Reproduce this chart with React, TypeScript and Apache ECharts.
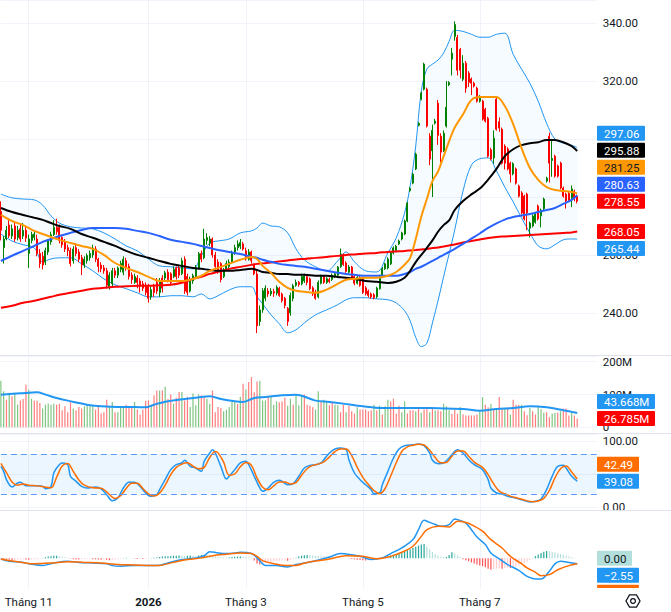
import React, { useEffect, useRef } from "react";
import * as echarts from "echarts";

// ---------- calendar ----------
const START_DATE = "2025-10-20";
const SLOT_COUNT = 215;
const HOLIDAYS = [
  "2026-01-01", "2026-02-13", "2026-02-16", "2026-02-17", "2026-02-18",
  "2026-02-19", "2026-02-20", "2026-04-27", "2026-04-30", "2026-05-01",
];
const MONTHS_SHOWN = [11, 1, 3, 5, 7];

// ---------- price candles: [open, close, low, high] ----------
const candles = [
  [275, 268.5, 265, 278.5], [262.5, 265.5, 257, 266.5], [265.5, 268.5, 265, 270], [270.3, 266.6, 265.8, 272], [266.5, 269, 265.5, 270.5],
  [270, 265.5, 264.5, 271.5], [266, 268.5, 265, 270], [269, 265.5, 264.5, 271], [266.5, 268.5, 265.5, 271], [268.5, 265.8, 264.5, 270],
  [260.5, 265.5, 255.5, 267], [265, 267, 264, 268], [266, 267.2, 265, 268.5], [265.5, 260.5, 259.5, 267], [260.5, 257, 255.5, 262],
  [259.5, 256.5, 255, 261], [257.5, 261.5, 256.5, 262.5], [261, 265, 260, 265.5], [264.5, 267, 263.5, 268], [267, 269.5, 266.5, 272],
  [269.5, 268, 267, 272.5], [269.5, 265, 264, 270.5], [266, 263.5, 262.5, 267], [264.5, 262, 261, 265.5], [262.5, 261.5, 259.5, 263.5],
  [261.5, 257, 256, 262.5], [258, 262, 257, 263], [262.5, 260.5, 259.5, 264], [261, 258.5, 257.5, 262], [259, 256.5, 253, 260],
  [256.5, 258.5, 255.5, 259.5], [258, 259.8, 257, 260.5], [259, 260.5, 258, 261.5], [260, 262.3, 259, 263.5], [262, 258.5, 257.5, 263],
  [258.5, 256, 254, 259], [256.5, 255.2, 254, 257.5], [255.5, 254.5, 253.5, 256.5], [254.5, 249.5, 248.5, 255.5], [249, 253, 248, 254],
  [250, 254.5, 249, 255.5], [254.5, 253, 252, 255.5], [253, 255.5, 252, 256], [255, 257, 254, 258], [254, 258.5, 253, 259.5],
  [258, 255.5, 254.5, 259], [256, 252.5, 251.5, 257], [253, 251.5, 250, 254], [250.5, 252.5, 250, 253.5], [252, 250.5, 248.5, 253],
  [251, 249.5, 247, 252], [250, 248.5, 247.5, 251], [249.5, 247, 246, 250.5], [249, 245, 243.5, 250], [245.5, 248, 244.5, 249],
  [249, 247, 245.5, 250], [250.5, 247.5, 246.5, 252], [247, 251, 245.5, 252], [252, 248.5, 247, 253], [252, 253.8, 251, 254.5],
  [254, 251.5, 250.5, 255], [253.5, 250.5, 249.5, 254], [252.5, 255, 252, 256], [255.5, 252.5, 251.5, 256], [255.5, 253, 252, 256.5],
  [253.5, 258, 253, 259], [258.5, 247.5, 246.5, 259.5], [252.5, 247, 246, 253.5], [247.5, 251.5, 247, 252.5], [251, 252.8, 250, 253.5],
  [252.5, 255.5, 252, 256.5], [255.5, 260.4, 255, 261], [260.5, 258.5, 257.5, 261.5], [259, 265.5, 258.5, 269], [265, 266, 263.5, 267.5],
  [264, 265.5, 263, 266.5], [265.5, 260, 259, 266], [260, 256, 255, 261], [257.5, 254.5, 253.5, 258.5], [257, 251.5, 250.5, 257.5],
  [252.5, 254.5, 252, 255.5], [255, 257, 254.5, 258], [256, 257.5, 255, 258.5], [257.5, 260.7, 257, 261.5], [261, 262.5, 260, 263.5],
  [262.5, 263.8, 261.5, 265], [263, 264.3, 262, 265.5], [263.8, 262, 261.5, 264.5], [261.4, 258.6, 258, 262.5], [258.5, 261, 258, 262],
  [261, 258, 257, 261.5], [256.5, 253.5, 253, 257], [253.4, 235.5, 233, 254.5], [237, 241, 235.5, 242.5], [241, 247.6, 240, 248.5],
  [245, 248.5, 244, 249.5], [247.5, 246.5, 245.5, 248.5], [246.5, 247.5, 245.8, 248.5], [247.3, 246.8, 245.5, 248.3], [246.8, 248.8, 246, 249.5],
  [248.5, 246, 245.5, 249], [246.5, 244.2, 243.5, 247], [245, 242.5, 241.5, 245.5], [241.5, 237, 235.5, 242], [240, 246, 239, 247],
  [245, 249.3, 244, 250], [249.5, 250.5, 249, 251.5], [250.5, 249.8, 249, 251], [250, 252.5, 249.5, 253.5], [251, 252.8, 250.3, 253.5],
  [252.5, 250.5, 249.5, 253], [251.7, 248.3, 247.8, 252.2], [248.6, 246.5, 245.8, 249.2], [247, 245, 244.5, 248], [245.5, 250.5, 245, 251.2],
  [250.2, 252.5, 249.8, 253.2], [252.5, 250.5, 250, 253], [250.5, 251.8, 250, 252.3], [251.5, 250.8, 250.2, 252.2], [251.5, 253, 251, 253.6],
  [252.5, 253.5, 252, 254], [253, 255.8, 252.5, 256.2], [256, 260.3, 255.5, 262.2], [259.5, 256.7, 256.2, 260.5], [257.2, 254.3, 253.8, 257.8],
  [254, 255.8, 253.5, 256.5], [255.8, 251.8, 251.5, 256.2], [252.5, 250.2, 249.5, 253], [250.2, 252.2, 249.8, 252.8], [252.2, 249.5, 249, 252.8],
  [251.7, 247, 246.5, 252.2], [248.6, 246.6, 246, 249.2], [247.5, 246, 245.3, 248], [246.5, 245.5, 244.8, 247], [246.2, 245.2, 244.6, 246.8],
  [245.5, 248.5, 245, 249], [248.3, 252.8, 248, 253.2], [252.8, 255.2, 252.5, 255.8], [255.2, 256.9, 254.8, 257.3], [255.5, 258.6, 255, 259.2],
  [256.9, 260.7, 256.5, 261.2], [260.7, 262.4, 260.2, 262.9], [261.5, 263, 261, 263.5], [263.8, 264.8, 263.4, 265.3], [265.5, 267.6, 265, 268],
  [267.2, 271.7, 266.8, 272.2], [271.7, 277.9, 271.3, 278.3], [282.2, 282.9, 281.8, 283.4], [284.8, 287.9, 284.4, 288.4], [289.7, 294.8, 289.3, 295.3],
  [304.8, 305.4, 304.4, 305.9], [313.8, 315.9, 313.4, 316.4], [317.2, 325.9, 316.8, 326.4], [317.2, 304.5, 304, 317.8], [301, 293.1, 291, 302],
  [296, 303, 280, 305], [305.5, 306.2, 305, 307], [312.4, 301.3, 298, 313.5], [301, 295.5, 292, 302], [296, 302, 295.5, 303],
  [304.5, 311, 304, 320], [318.8, 319.5, 318.3, 320], [327.6, 329.7, 322, 331.5], [335.5, 339.6, 334, 340.7], [335.1, 323.8, 322, 336],
  [331, 323.8, 321, 331.5], [320.7, 326.2, 320, 329], [326.2, 317.6, 316, 327], [322.8, 319.6, 318, 323.5], [320.8, 319.3, 315.2, 321.3],
  [319.3, 318.3, 317.8, 319.8], [317.6, 313.1, 312.6, 318.1], [313.1, 314.5, 312.6, 315.2], [313.1, 306.9, 306.4, 313.6], [310.3, 306.2, 305.7, 310.8],
  [307.2, 294.1, 293.6, 307.7], [296.3, 293.1, 292.6, 297], [293.5, 300.3, 291.5, 303], [313.8, 303.4, 302.9, 314.3], [306, 303.8, 302.5, 307.5],
  [303.4, 291.7, 291.2, 304], [297.6, 291.7, 289.5, 298.2], [296.6, 289.7, 289.2, 297.2], [291.7, 288, 285, 292.2], [288, 291.5, 287.5, 292],
  [289.7, 284.8, 284.3, 290.2], [283.8, 280.3, 279.8, 284.3], [281.4, 274.5, 274, 282], [280.3, 272.4, 271.9, 280.8], [281, 274.5, 268.5, 281.5],
  [269.2, 271, 266, 271.5], [270, 273.4, 269.5, 274], [271.3, 274.1, 270.8, 274.6], [276.9, 272.4, 271.9, 277.4], [273.5, 275.5, 269.5, 276],
  [275.9, 279.3, 275.4, 279.8], [285.5, 286.5, 285, 287], [301, 291.7, 285, 302.2], [292.6, 293.3, 287, 299.5], [294.1, 287.2, 286.7, 294.6],
  [290.7, 287.2, 286.7, 291.2], [291.7, 283.1, 282.6, 292.2], [283.1, 280.3, 279.8, 283.6], [281, 278.6, 276, 281.5], [281.2, 278.8, 278.3, 282],
  [279.7, 282.8, 276.5, 284], [282, 279.5, 278.5, 282.5], [280.3, 278.55, 277.8, 280.8],
];

// ---------- volume (millions) ----------
const volumes = [
  142, 110, 84, 105, 95, 105, 69, 82, 86, 130,
  115, 87, 82, 81, 74, 57, 69, 72, 69, 72,
  69, 72, 52, 64, 46, 76, 57, 52, 62, 57,
  64, 69, 69, 64, 54, 64, 42, 46, 84, 64,
  77, 46, 46, 61, 61, 69, 59, 61, 77, 54,
  39, 54, 81, 82, 69, 97, 112, 112, 112, 124,
  86, 100, 72, 90, 108, 108, 82, 93, 62, 103,
  67, 100, 97, 93, 87, 72, 112, 46, 62, 59,
  49, 54, 62, 77, 79, 71, 93, 133, 115, 138,
  153, 107, 140, 142, 82, 82, 93, 93, 69, 79,
  76, 79, 90, 66, 87, 69, 98, 67, 95, 100,
  69, 66, 61, 54, 110, 77, 84, 77, 67, 77,
  69, 67, 46, 69, 46, 66, 49, 42, 61, 54,
  54, 54, 49, 52, 69, 51, 66, 39, 64, 84,
  79, 87, 42, 66, 46, 79, 42, 52, 52, 49,
  61, 44, 54, 57, 46, 57, 51, 52, 49, 72,
  64, 52, 41, 54, 41, 62, 39, 36, 36, 36,
  36, 39, 49, 92, 69, 61, 71, 54, 54, 92,
  57, 57, 61, 39, 84, 69, 69, 69, 49, 37,
  59, 49, 39, 64, 55, 44, 46, 31, 42, 44,
  44, 49, 57, 57, 36, 49, 36, 26.785,
];
const volumeUp = [
  1, 1, 0, 1, 0, 1, 1, 0, 0, 0, 1, 1, 0, 0, 0, 1, 1, 1, 1, 1,
  0, 0, 0, 0, 0, 0, 1, 0, 0, 0, 1, 1, 1, 1, 0, 0, 0, 0, 0, 1,
  1, 0, 1, 1, 1, 0, 0, 0, 1, 0, 0, 0, 0, 0, 1, 0, 0, 1, 0, 1,
  0, 0, 1, 0, 0, 1, 0, 0, 1, 1, 1, 1, 0, 0, 1, 1, 0, 0, 0, 0,
  1, 1, 1, 1, 1, 0, 1, 0, 1, 0, 0, 0, 0, 1, 1, 1, 0, 1, 1, 1,
  0, 0, 0, 1, 1, 0, 1, 1, 1, 0, 0, 0, 0, 1, 1, 0, 1, 1, 0, 0,
  1, 1, 0, 0, 1, 0, 0, 0, 1, 0, 0, 0, 0, 0, 1, 0, 1, 0, 1, 1,
  0, 0, 0, 0, 1, 1, 0, 0, 0, 1, 0, 1, 0, 0, 1, 0, 1, 0, 0, 1,
  1, 1, 0, 0, 0, 1, 0, 0, 0, 0, 0, 0, 1, 1, 0, 0, 1, 0, 1, 0,
  0, 1, 0, 1, 0, 0, 0, 1, 0, 0, 1, 0, 0, 1, 1, 1, 0, 0, 1, 1,
  0, 1, 0, 0, 0, 1, 0, 0,
];
const volumeMA = [
  [0, 99.6], [7, 103.7], [13, 106.8], [16, 99.6], [20, 89.5], [24, 81.3], [28, 74.2], [32, 67.1], [36, 64], [42, 62],
  [48, 62], [52, 61], [55, 69], [60, 79.3], [66, 86.4], [72, 92.5], [75, 94.6], [79, 86.4], [84, 79.3], [87, 77.3],
  [91, 89.5], [95, 92.5], [101, 97.6], [106, 99.6], [113, 81.3], [118, 77.3], [123, 72.2], [130, 64], [137, 59], [142, 59],
  [148, 59], [154, 59], [160, 57], [166, 56], [172, 50.8], [178, 56], [184, 59], [190, 64], [196, 61], [202, 52],
  [205, 47], [207, 43.668],
];

// ---------- overlay indicators sampled at these bar indices ----------
const bandIdx = [
  0, 4, 8, 12, 15, 18, 21, 25, 29, 33, 37, 41, 45, 49, 53, 57, 61, 65, 69, 72,
  75, 78, 82, 86, 90, 92, 94, 97, 100, 103, 106, 109, 113, 117, 121, 124, 127, 131, 135, 139,
  142, 145, 147, 149, 151, 153, 155, 157, 159, 161, 163, 166, 169, 172, 175, 178, 181, 184, 187, 190,
  193, 196, 199, 202, 205, 207,
];
const bbUpper = [
  281.0, 279.7, 279.3, 279.0, 277.2, 273.5, 271.0, 269.7, 269.3, 269.0,
  267.6, 265.5, 263.1, 261.4, 258.6, 256.2, 255.9, 255.5, 255.2, 259.7,
  264.1, 264.8, 265.5, 267.6, 268.3, 269.3, 271.0, 270.0, 269.7, 267.6,
  262.1, 258.3, 255.9, 254.5, 257.9, 261.0, 257.6, 254.5, 254.1, 260.7,
  265.9, 274.5, 283.8, 297.6, 316.6, 324.2, 325.9, 327.3, 329.7, 333.8,
  337.6, 337.2, 336.2, 335.2, 335.2, 336.2, 336.6, 329.3, 324.2, 319.3,
  313.1, 305.5, 300.0, 298.6, 297.9, 297.06,
];
const bbLower = [
  267.2, 264.8, 263.5, 262.4, 257.6, 258.6, 259.0, 259.0, 256.9, 254.5,
  251.7, 249.7, 248.3, 246.9, 245.5, 245.5, 245.9, 245.9, 245.5, 246.5,
  244.8, 245.9, 247.9, 249.0, 249.0, 245.5, 243.1, 239.3, 236.2, 233.1,
  234.1, 236.5, 239.3, 241.0, 242.8, 244.5, 245.2, 245.2, 244.8, 244.5,
  243.4, 240.7, 237.2, 231.5, 228.3, 229.5, 236.5, 244.1, 252.4, 260.4,
  268.6, 282.1, 291.0, 293.2, 293.5, 289.0, 283.4, 278.3, 272.8, 267.6,
  263.1, 262.1, 263.5, 265.2, 265.5, 265.44,
];
const ma20 = [
  273.8, 271.7, 270.3, 268.3, 267.2, 266.2, 265.2, 264.1, 263.1, 262.1,
  260.0, 257.2, 255.5, 254.1, 252.4, 251.0, 251.0, 251.0, 251.7, 252.8,
  254.5, 255.5, 256.9, 258.3, 259.3, 258.6, 256.2, 253.8, 250.7, 248.6,
  247.6, 247.3, 246.9, 248.0, 250.0, 251.4, 251.7, 252.1, 252.1, 252.8,
  254.1, 256.6, 259.0, 265.5, 273.2, 279.3, 285.5, 288.8, 294.0, 299.3,
  304.0, 308.6, 313.5, 314.5, 314.5, 314.5, 311.4, 305.2, 296.9, 290.0,
  285.9, 283.4, 282.4, 282.1, 281.7, 281.25,
];
const ma50 = [
  276.2, 274.8, 273.8, 272.8, 272.1, 271.0, 270.0, 269.0, 267.2, 265.9,
  264.5, 263.1, 261.4, 260.0, 259.0, 257.9, 256.9, 256.2, 255.5, 255.2,
  254.8, 254.5, 254.5, 254.8, 255.2, 254.8, 254.1, 253.8, 253.4, 253.4,
  253.1, 253.1, 252.8, 252.8, 252.4, 252.1, 251.7, 251.0, 250.7, 250.3,
  250.7, 252.1, 254.5, 257.5, 260.0, 262.4, 265.0, 268.0, 270.3, 271.9,
  275.5, 278.6, 280.9, 282.9, 286.0, 289.7, 294.1, 296.5, 297.9, 298.6,
  298.9, 299.7, 299.7, 298.9, 297.6, 295.88,
];
const ma100 = [
  257.9, 259.7, 261.4, 263.1, 264.5, 265.5, 266.5, 267.6, 268.6, 269.3,
  269.3, 269.3, 269.0, 268.3, 267.6, 266.5, 265.2, 264.5, 263.8, 263.1,
  262.4, 261.7, 261.0, 260.3, 259.3, 259.0, 258.3, 257.6, 256.9, 256.5,
  256.2, 255.9, 255.2, 254.5, 253.8, 253.4, 253.1, 252.8, 252.8, 252.8,
  252.8, 253.4, 254.1, 255.2, 255.9, 256.9, 257.9, 259.0, 260.0, 261.0,
  262.1, 263.8, 265.6, 267.4, 269.3, 270.9, 272.2, 273.1, 273.6, 274.1,
  274.8, 275.5, 276.2, 277.6, 279.0, 280.63,
];
const ma200 = [
  241.72, 242.41, 243.45, 244.14, 244.83, 245.52, 246.21, 246.9, 247.59, 248.28,
  248.62, 248.97, 249.14, 249.31, 249.31, 249.48, 249.66, 250.35, 251.73, 252.41,
  253.45, 254.14, 255.17, 255.86, 256.55, 256.9, 257.07, 257.41, 257.76, 258.1,
  258.45, 258.62, 258.97, 259.31, 259.66, 260.0, 260.17, 260.52, 260.69, 261.04,
  261.21, 261.38, 261.55, 261.72, 261.9, 262.07, 262.41, 262.59, 262.93, 263.28,
  263.62, 264.31, 264.83, 265.35, 265.86, 266.21, 266.38, 266.55, 266.72, 266.9,
  267.07, 267.24, 267.41, 267.59, 267.76, 268.05,
];

// ---------- Stoch RSI: [bar index, value] ----------
const stochK = [
  [0, 61.6], [1, 54], [2, 41.4], [4, 30.3], [6, 36.4], [7, 37.4], [9, 32.3], [11, 32.3], [13, 32.3], [15, 31.3],
  [16, 27.8], [18, 31.3], [19, 51.5], [21, 64.1], [22, 66.7], [24, 64.1], [25, 46.5], [27, 38.9], [29, 31.3], [31, 28.8],
  [34, 30.3], [36, 27.3], [38, 18.7], [40, 9.6], [42, 13.6], [44, 28.8], [46, 37.4], [48, 37.4], [50, 31.3], [52, 21.2],
  [54, 16.2], [56, 18.7], [57, 26.3], [59, 41.4], [61, 56.6], [63, 64.1], [65, 66.7], [66, 70.7], [68, 61.6], [70, 59.1],
  [72, 54], [73, 69.2], [75, 81.8], [76, 86.9], [77, 81.8], [79, 61.6], [81, 42.4], [82, 46.5], [84, 56.6], [86, 66.7],
  [88, 69.2], [89, 64.1], [91, 46.5], [93, 28.8], [94, 23.7], [96, 28.8], [98, 37.4], [100, 40.4], [101, 38.9], [103, 33.8],
  [105, 35.4], [107, 46.5], [109, 59.1], [111, 63.1], [113, 64.1], [115, 66.7], [116, 71.7], [118, 81.8], [120, 87.9], [122, 89.4],
  [124, 86.9], [125, 71.7], [127, 51.5], [129, 41.4], [131, 33.8], [133, 26.3], [134, 20.2], [136, 21.2], [137, 33.8], [139, 54],
  [141, 74.2], [143, 87.9], [145, 92.9], [148, 94.4], [150, 95.5], [152, 92.9], [154, 81.8], [155, 70.7], [157, 65.7], [159, 66.7],
  [161, 74.2], [163, 84.3], [164, 86.9], [166, 81.8], [168, 71.7], [170, 64.1], [173, 56.6], [175, 41.4], [176, 28.8], [178, 21.2],
  [180, 19.7], [182, 16.2], [185, 13.6], [187, 11.1], [190, 7.6], [192, 8.6], [194, 12.1], [196, 26.3], [198, 46.5], [200, 61.6],
  [202, 63.1], [203, 59.1], [205, 46.5], [207, 39.08],
];
const stochD = [
  [0, 66], [2, 52], [4, 38], [6, 33], [8, 35], [10, 33], [13, 32], [16, 30], [18, 29], [20, 45],
  [22, 62], [24, 66], [26, 54], [28, 41], [30, 33], [33, 29], [36, 28.5], [38, 23], [41, 13], [43, 17],
  [45, 28], [47, 36], [49, 36], [51, 28], [53, 20], [55, 16.5], [57, 21], [59, 33], [61, 49], [63, 60],
  [65, 65], [67, 67], [69, 62], [71, 58], [73, 60], [75, 75], [77, 84], [78, 82], [80, 68], [82, 48],
  [84, 50], [86, 61], [88, 67.5], [90, 63], [92, 44], [94, 30], [96, 26], [98, 32], [100, 38], [102, 38],
  [104, 35], [106, 37], [108, 48], [110, 58], [112, 63], [114, 65], [116, 68.5], [118, 76], [120, 84], [122, 88],
  [124, 88], [126, 78], [128, 60], [130, 45], [132, 34], [134, 25], [136, 20], [138, 28], [140, 47], [142, 67],
  [144, 84], [146, 91], [148, 93.5], [150, 95], [152, 94], [154, 86], [156, 75], [158, 67], [160, 67.5], [162, 77],
  [164, 85], [166, 85], [168, 77], [170, 68], [173, 60], [175, 49], [177, 35], [179, 24], [181, 20], [183, 16.5],
  [186, 13], [188, 10.5], [191, 8], [193, 9], [195, 13], [197, 25], [199, 44], [201, 58], [203, 62], [205, 53],
  [207, 42.49],
];

// ---------- MACD: [bar index, value] ----------
const macdLine = [
  [0, -0.3], [3, -1.4], [7, -1.7], [10, -2.5], [15, -3.3], [19, -2.2], [24, -1.4], [28, -1.9], [33, -2.2], [38, -2.5],
  [40, -3.4], [43, -3.7], [48, -3.3], [52, -3.4], [56, -3.4], [60, -2.2], [63, -1.1], [67, -0.3], [70, 0.2], [73, 1.2],
  [75, 3.1], [78, 2.5], [81, 2.2], [84, 2.5], [86, 2.8], [90, 2.2], [92, 0.2], [94, -2.6], [95, -3.3], [99, -3.4],
  [103, -4.0], [106, -2.9], [109, -2.2], [113, -1.1], [118, 0.6], [122, 2.2], [126, 1.6], [130, 0.6], [133, -0.6], [137, 0.2],
  [140, 2.2], [144, 4.8], [148, 8.7], [150, 13.3], [152, 17.7], [154, 16.7], [156, 15.7], [158, 14.9], [161, 15.7], [163, 18.3],
  [164, 18.0], [167, 16.4], [169, 13.3], [171, 9.9], [174, 6.4], [176, 2.5], [179, -0.3], [182, -2.9], [186, -5.6], [189, -8.4],
  [192, -9.6], [194, -9.6], [197, -6.0], [199, -2.6], [201, -1.4], [204, -1.9], [207, -2.55],
];
const signalLine = [
  [0, -0.3], [6, -1.6], [12, -2.5], [18, -2.2], [24, -1.6], [30, -1.9], [36, -2.2], [42, -2.9], [48, -3.1], [54, -3.4],
  [57, -3.3], [62, -1.9], [67, -0.6], [72, 0.2], [76, 1.2], [81, 1.9], [86, 2.5], [90, 2.2], [92, 0.9], [94, -1.1],
  [98, -2.5], [103, -3.4], [106, -3.3], [110, -1.9], [118, -0.3], [124, 1.2], [130, 0.9], [135, -0.2], [140, 0.9], [144, 2.8],
  [148, 5.6], [151, 10.2], [153, 13.3], [157, 14.9], [161, 14.6], [164, 17.2], [167, 16.7], [169, 15.7], [173, 12.6], [176, 8.7],
  [180, 4.8], [183, 0.9], [187, -2.5], [189, -4.5], [192, -6.5], [194, -8.1], [197, -7.6], [200, -5.3], [204, -3.4], [207, -2.56],
];
const macdHist = [
  -0.3, -0.4, -0.5, -0.6, -0.8, -0.8, -0.6, -0.5, -0.5, -0.6,
  -0.7, -0.6, -0.5, -0.4, -0.2, 0.2, 0.5, 0.8, 1.0, 1.2,
  1.2, 1.0, 0.8, 0.5, 0.3, -0.2, -0.4, -0.5, -0.6, -0.5,
  -0.4, -0.3, -0.3, -0.4, -0.5, -0.6, -0.7, -0.6, -0.7, -0.9,
  -0.8, -0.6, -0.4, -0.2, 0.2, 0.3, 0.2, 0.1, -0.2, -0.3,
  -0.2, -0.3, -0.2, -0.1, 0.2, 0.3, 0.4, 0.6, 0.8, 0.9,
  1.0, 1.1, 1.2, 1.2, 1.3, 1.2, 1.1, 1.2, 1.3, 1.2,
  1.1, 1.3, 1.5, 1.7, 1.6, 1.4, 1.1, 0.9, 0.7, 0.5,
  0.4, 0.3, 0.4, 0.6, 0.7, 0.8, 0.8, 0.7, 0.6, 0.4,
  0.2, -1.0, -2.4, -2.9, -2.6, -2.2, -1.9, -1.6, -1.4, -1.2,
  -1.1, -1.0, -1.0, -1.1, -0.8, -0.4, 0.3, 0.8, 1.2, 1.4,
  1.5, 1.4, 1.3, 1.2, 1.1, 1.0, 0.9, 0.8, 0.8, 0.7,
  0.6, 0.5, 0.4, 0.2, 0.1, -0.1, -0.3, -0.5, -0.7, -0.8,
  -0.9, -1.0, -0.9, -0.8, -0.5, -0.2, 0.2, 0.5, 0.8, 1.0,
  1.3, 1.7, 2.0, 2.4, 2.8, 3.2, 3.7, 4.2, 4.8, 5.4,
  5.9, 6.4, 6.7, 5.5, 4.2, 3.0, 2.0, 1.3, 0.8, 0.5,
  0.6, 1.5, 2.8, 2.2, 1.4, 0.6, -0.4, -0.9, -1.4, -1.9,
  -2.4, -2.9, -3.3, -3.7, -4.2, -4.8, -5.3, -5.0, -4.8, -4.6,
  -4.8, -4.6, -4.4, -4.5, -4.2, -3.8, -3.4, -2.8, -2.2, -1.6,
  -0.8, 0.2, 1.0, 1.8, 2.5, 3.1, 3.4, 3.3, 3.0, 2.7,
  2.4, 2.0, 1.6, 1.2, 0.8, 0.5, 0.2, 0.0,
];

// ---------- styling / layout ----------
const FONT = 'Roboto, "Liberation Sans", Arial, sans-serif';
const FS = 11.5;
const TEXT = "#131722";
const GRID_LINE = "#f0f3fa";
const SEP = "#e0e3eb";
const PLOT_LEFT = 0.89;
const PLOT_RIGHT = 74.3;
const PANES = [
  { top: 0, height: 355 },
  { top: 356, height: 77 },
  { top: 434, height: 76 },
  { top: 511, height: 77 },
];
const Y_RANGES = [
  [225.42, 348.05],
  [-17.4, 217.4],
  [-4.55, 110.6],
  [-13.81, 22.0],
];
const C_UP = "#008000";
const C_DOWN = "#ff0000";
const BB_BLUE = "#2196f3";
const SMOOTH = 0.35;

function buildTradingDays(start: string, n: number, holidays: string[]): string[] {
  const out: string[] = [];
  const d = new Date(start + "T00:00:00Z");
  while (out.length < n) {
    const wd = d.getUTCDay();
    const s = d.toISOString().slice(0, 10);
    if (wd !== 0 && wd !== 6 && holidays.indexOf(s) < 0) out.push(s);
    d.setUTCDate(d.getUTCDate() + 1);
  }
  return out;
}

const fmtMinus = (v: number, d: number) => {
  const s = Math.abs(v).toFixed(d);
  return v < 0 && Number(s) !== 0 ? "\u2212" + s : s;
};

export default function App() {
  const ref = useRef<HTMLDivElement>(null);

  useEffect(() => {
    const el = ref.current;
    if (!el) return;
    const chart = echarts.init(el, null, { renderer: "svg" });
    const cats = buildTradingDays(START_DATE, SLOT_COUNT, HOLIDAYS);
    const monthOf = (i: number) => Number(cats[i].slice(5, 7));
    const isMonthMark = (i: number) =>
      i > 0 && i < cats.length && monthOf(i) !== monthOf(i - 1) && MONTHS_SHOWN.indexOf(monthOf(i)) >= 0;

    const grids = PANES.map((p) => ({
      left: PLOT_LEFT,
      right: PLOT_RIGHT,
      top: p.top,
      height: p.height,
      containLabel: false,
      outerBoundsMode: "none",
    }));

    const xAxes = PANES.map((_, k) => ({
      type: "category",
      gridIndex: k,
      data: cats,
      boundaryGap: false,
      axisLine: { show: false },
      axisTick: { show: false },
      axisPointer: { show: false },
      axisLabel:
        k === 3
          ? {
              show: true,
              interval: (i: number) => isMonthMark(i),
              color: TEXT,
              fontSize: FS,
              fontFamily: FONT,
              margin: 8,
              hideOverlap: false,
              formatter: (val: string) => {
                const m = Number(val.slice(5, 7));
                return m === 1 ? "{b|" + val.slice(0, 4) + "}" : "Tháng " + m;
              },
              rich: { b: { fontWeight: "bold", fontSize: FS, fontFamily: FONT, color: TEXT } },
            }
          : { show: false },
      splitLine: {
        show: true,
        interval: (i: number) => isMonthMark(i),
        lineStyle: { color: GRID_LINE, width: 1 },
      },
    }));

    const baseLabel = {
      color: TEXT,
      fontSize: FS,
      fontFamily: FONT,
      margin: 6,
      showMinLabel: false,
      showMaxLabel: false,
    };
    const fmtPrice = (v: number) => v.toFixed(2);
    const fmtVol = (v: number) => (v === 0 ? "0" : v + "M");
    const fmtStoch = (v: number) => (v === 50 ? "" : v.toFixed(2));
    const yAxes = [
      {
        type: "value", gridIndex: 0, position: "right", min: Y_RANGES[0][0], max: Y_RANGES[0][1], splitNumber: 6,
        axisLine: { show: false }, axisTick: { show: false },
        axisLabel: { ...baseLabel, formatter: fmtPrice },
        splitLine: { show: true, lineStyle: { color: GRID_LINE } },
      },
      {
        type: "value", gridIndex: 1, position: "right", min: Y_RANGES[1][0], max: Y_RANGES[1][1], splitNumber: 2,
        axisLine: { show: false }, axisTick: { show: false },
        axisLabel: { ...baseLabel, formatter: fmtVol },
        splitLine: { show: true, lineStyle: { color: GRID_LINE } },
      },
      {
        type: "value", gridIndex: 2, position: "right", min: Y_RANGES[2][0], max: Y_RANGES[2][1], splitNumber: 2,
        axisLine: { show: false }, axisTick: { show: false },
        axisLabel: { ...baseLabel, formatter: fmtStoch },
        splitLine: { show: true, lineStyle: { color: GRID_LINE } },
      },
      {
        type: "value", gridIndex: 3, position: "right", min: Y_RANGES[3][0], max: Y_RANGES[3][1],
        axisLine: { show: false }, axisTick: { show: false },
        axisLabel: { show: false },
        splitLine: { show: false },
      },
    ];

    const pairs = (vals: number[]) => bandIdx.map((x, k) => [x, vals[k]]);
    const maLine = (name: string, vals: number[], color: string) => ({
      type: "line", name, xAxisIndex: 0, yAxisIndex: 0, data: pairs(vals),
      smooth: SMOOTH, symbol: "none", silent: true, z: 4,
      lineStyle: { color, width: 2 },
    });

    const histData = macdHist.map((v, i) => {
      const prev = i > 0 ? macdHist[i - 1] : v;
      let color;
      if (v >= 0) color = v >= prev ? "#26a69a" : "#b2dfdb";
      else color = v < prev ? "#ff5252" : "#ffcdd2";
      return { value: [i, v], itemStyle: { color } };
    });
    const volData = volumes.map((v, i) => ({
      value: [i, v],
      itemStyle: { color: volumeUp[i] ? "rgba(76,175,80,0.72)" : "rgba(255,82,82,0.75)" },
    }));

    const series: any[] = [
      {
        type: "line", name: "bbLower", xAxisIndex: 0, yAxisIndex: 0, stack: "bb",
        data: pairs(bbLower), smooth: SMOOTH, symbol: "none", silent: true, z: 1,
        lineStyle: { color: BB_BLUE, width: 1 },
      },
      {
        type: "line", name: "bbUpper", xAxisIndex: 0, yAxisIndex: 0, stack: "bb",
        data: bandIdx.map((x, k) => [x, bbUpper[k] - bbLower[k]]), smooth: SMOOTH, symbol: "none", silent: true, z: 1,
        lineStyle: { color: BB_BLUE, width: 1 },
        areaStyle: { color: "rgba(33,150,243,0.055)" },
      },
      {
        type: "candlestick", name: "price", xAxisIndex: 0, yAxisIndex: 0, data: candles,
        barWidth: 1.5, silent: true, z: 2,
        itemStyle: { color: C_UP, color0: C_DOWN, borderColor: C_UP, borderColor0: C_DOWN, borderWidth: 1 },
      },
      maLine("ma200", ma200, "#ff0000"),
      maLine("ma100", ma100, "#2962ff"),
      maLine("ma50", ma50, "#000000"),
      maLine("ma20", ma20, "#ff9800"),
      {
        type: "bar", name: "volume", xAxisIndex: 1, yAxisIndex: 1, data: volData, barWidth: 1.2, silent: true,
      },
      {
        type: "line", name: "volumeMA", xAxisIndex: 1, yAxisIndex: 1, data: volumeMA, smooth: SMOOTH,
        symbol: "none", silent: true, lineStyle: { color: "#2196f3", width: 2 }, z: 3,
      },
      {
        type: "line", name: "stochK", xAxisIndex: 2, yAxisIndex: 2, data: stochK, smooth: SMOOTH,
        symbol: "none", silent: true, lineStyle: { color: "#2196f3", width: 1.5 }, z: 3,
        markArea: {
          silent: true,
          itemStyle: { color: "rgba(33,150,243,0.09)" },
          data: [[{ yAxis: 80 }, { yAxis: 20 }]],
        },
        markLine: {
          silent: true, symbol: "none", label: { show: false },
          lineStyle: { color: "#5b9cf6", type: [6, 4], width: 1 },
          data: [{ yAxis: 80 }, { yAxis: 20 }],
        },
      },
      {
        type: "line", name: "stochD", xAxisIndex: 2, yAxisIndex: 2, data: stochD, smooth: SMOOTH,
        symbol: "none", silent: true, lineStyle: { color: "#ff6d00", width: 1.5 }, z: 4,
      },
      {
        type: "bar", name: "hist", xAxisIndex: 3, yAxisIndex: 3, data: histData, barWidth: 1.2, silent: true,
      },
      {
        type: "line", name: "macd", xAxisIndex: 3, yAxisIndex: 3, data: macdLine, smooth: SMOOTH,
        symbol: "none", silent: true, lineStyle: { color: "#2196f3", width: 1.5 }, z: 3,
      },
      {
        type: "line", name: "signal", xAxisIndex: 3, yAxisIndex: 3, data: signalLine, smooth: SMOOTH,
        symbol: "none", silent: true, lineStyle: { color: "#ff6d00", width: 1.5 }, z: 4,
      },
    ];

    chart.setOption({
      animation: false,
      backgroundColor: "#ffffff",
      textStyle: { fontFamily: FONT },
      grid: grids,
      xAxis: xAxes,
      yAxis: yAxes,
      series,
    });

    // ---------- value badges on the price scale ----------
    const canvas = document.createElement("canvas");
    const ctx = canvas.getContext("2d");
    const measure = (t: string) => {
      if (!ctx) return t.length * 7;
      ctx.font = `${FS}px ${FONT}`;
      return ctx.measureText(t).width;
    };
    const BADGE_H = 15;
    const GAP = 17;
    const BADGE_X = 597;
    const graphics: any[] = [];
    const badgeRects: { gridIndex: number; top: number; bottom: number }[] = [];

    const placeBadges = (
      gridIndex: number,
      items: { value: number; text: string; bg: string; fg: string }[],
      anchor: number
    ) => {
      const pane = PANES[gridIndex];
      const nat = items.map((it) => (chart.convertToPixel({ gridIndex }, [0, it.value]) as number[])[1]);
      const ys = nat.slice();
      const ay = nat[anchor];
      const idx = items.map((_, i) => i).filter((i) => i !== anchor);
      const above = idx.filter((i) => nat[i] < ay).sort((a, b) => nat[b] - nat[a]);
      let prev = ay;
      for (const i of above) {
        ys[i] = Math.min(nat[i], prev - GAP);
        prev = ys[i];
      }
      const below = idx.filter((i) => nat[i] >= ay).sort((a, b) => nat[a] - nat[b]);
      prev = ay;
      for (const i of below) {
        ys[i] = Math.max(nat[i], prev + GAP);
        prev = ys[i];
      }
      items.forEach((it, i) => {
        const y = ys[i];
        const top = Math.max(y - BADGE_H / 2, pane.top);
        const bottom = Math.min(y + BADGE_H / 2, pane.top + pane.height);
        if (bottom <= top) return;
        badgeRects.push({ gridIndex, top, bottom });
        const w = Math.round(measure(it.text) + 13);
        graphics.push({
          type: "rect", z: 100, silent: true,
          shape: { x: BADGE_X, y: top, width: w, height: bottom - top, r: 1 },
          style: { fill: it.bg },
        });
        if (bottom - top >= BADGE_H - 0.01) {
          graphics.push({
            type: "text", z: 101, silent: true, x: BADGE_X + 7, y: y + 0.5,
            style: {
              text: it.text, fill: it.fg, fontSize: FS, fontFamily: FONT,
              align: "left", verticalAlign: "middle", textAlign: "left", textVerticalAlign: "middle",
            },
          });
        }
      });
    };

    const last = (a: number[]) => a[a.length - 1];
    const lastPair = (a: number[][]) => a[a.length - 1][1];
    const closeLast = candles[candles.length - 1][1];

    placeBadges(
      0,
      [
        { value: last(bbUpper), text: last(bbUpper).toFixed(2), bg: "#2196f3", fg: "#ffffff" },
        { value: last(ma50), text: last(ma50).toFixed(2), bg: "#000000", fg: "#ffffff" },
        { value: last(ma20), text: last(ma20).toFixed(2), bg: "#ff9800", fg: "#131722" },
        { value: last(ma100), text: last(ma100).toFixed(2), bg: "#2962ff", fg: "#ffffff" },
        { value: closeLast, text: closeLast.toFixed(2), bg: "#ff0000", fg: "#ffffff" },
        { value: last(ma200), text: last(ma200).toFixed(2), bg: "#ff0000", fg: "#ffffff" },
        { value: last(bbLower), text: last(bbLower).toFixed(2), bg: "#2196f3", fg: "#ffffff" },
      ],
      4
    );
    const volLast = last(volumes);
    const volMALast = lastPair(volumeMA);
    placeBadges(
      1,
      [
        { value: volMALast, text: volMALast.toFixed(3) + "M", bg: "#2196f3", fg: "#ffffff" },
        { value: volLast, text: volLast.toFixed(3) + "M", bg: "#ff0000", fg: "#ffffff" },
      ],
      1
    );
    placeBadges(
      2,
      [
        { value: lastPair(stochD), text: lastPair(stochD).toFixed(2), bg: "#ff6d00", fg: "#ffffff" },
        { value: lastPair(stochK), text: lastPair(stochK).toFixed(2), bg: "#2196f3", fg: "#ffffff" },
      ],
      1
    );
    placeBadges(
      3,
      [
        { value: last(macdHist), text: fmtMinus(last(macdHist), 2), bg: "#b2dfdb", fg: "#131722" },
        { value: lastPair(macdLine), text: fmtMinus(lastPair(macdLine), 2), bg: "#2196f3", fg: "#ffffff" },
        { value: lastPair(signalLine), text: fmtMinus(lastPair(signalLine), 2), bg: "#ff6d00", fg: "#ffffff" },
      ],
      0
    );

    // scale labels that a badge covers almost entirely are not drawn (as on the reference)
    const coveredValues = (gridIndex: number, values: number[]) =>
      values.filter((v) => {
        const y = (chart.convertToPixel({ gridIndex }, [0, v]) as number[])[1];
        const t = y - 6;
        const b = y + 6;
        let cover = 0;
        badgeRects
          .filter((r) => r.gridIndex === gridIndex)
          .forEach((r) => {
            cover += Math.max(0, Math.min(b, r.bottom) - Math.max(t, r.top));
          });
        return cover / 12 > 0.7;
      });
    const hidePrice = coveredValues(0, [240, 260, 280, 300, 320, 340]);
    const hideVol = coveredValues(1, [0, 100, 200]);
    const hideStoch = coveredValues(2, [0, 100]);
    const isHidden = (list: number[], v: number) => list.some((h) => Math.abs(h - v) < 1e-6);

    // pane separators
    [355.5, 433.5, 510.5].forEach((y) => {
      graphics.push({
        type: "line", z: 90, silent: true,
        shape: { x1: 0, y1: y, x2: 671, y2: y },
        style: { stroke: SEP, lineWidth: 1 },
      });
    });

    // settings gear icon (bottom-right)
    const gx = 633, gy = 601, gr = 7;
    const hex: number[][] = [];
    for (let k = 0; k < 6; k++) {
      const a = (Math.PI / 3) * k;
      hex.push([gx + gr * Math.cos(a), gy + gr * Math.sin(a)]);
    }
    graphics.push({
      type: "polygon", z: 100, silent: true, shape: { points: hex },
      style: { fill: "none", stroke: TEXT, lineWidth: 1.3 },
    });
    graphics.push({
      type: "circle", z: 100, silent: true, shape: { cx: gx, cy: gy, r: 2.4 },
      style: { fill: "none", stroke: TEXT, lineWidth: 1.3 },
    });

    chart.setOption({
      yAxis: [
        { axisLabel: { formatter: (v: number) => (isHidden(hidePrice, v) ? "" : fmtPrice(v)) } },
        { axisLabel: { formatter: (v: number) => (isHidden(hideVol, v) ? "" : fmtVol(v)) } },
        { axisLabel: { formatter: (v: number) => (isHidden(hideStoch, v) ? "" : fmtStoch(v)) } },
        {},
      ],
      graphic: graphics,
    });

    return () => {
      chart.dispose();
    };
  }, []);

  return (
    <div
      ref={ref}
      style={{ position: "fixed", left: 0, top: 0, width: 671, height: 612, background: "#ffffff" }}
    />
  );
}
